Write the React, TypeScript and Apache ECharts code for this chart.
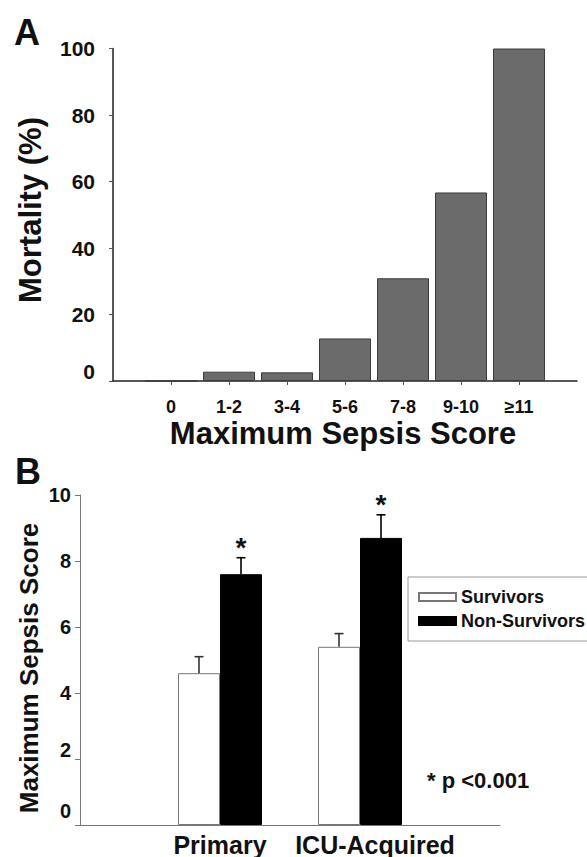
import React, { useEffect, useRef } from "react";
import * as echarts from "echarts";

// ---- Panel A data ----
const aCategories = ["0", "1-2", "3-4", "5-6", "7-8", "9-10", "≥11"];
const aMortality = [0, 2.8, 2.6, 12.8, 30.9, 56.7, 100];

// ---- Panel B data ----
const bGroups = ["Primary", "ICU-Acquired"];
const bSurvivors = [4.6, 5.4];
const bSurvivorsErr = [0.5, 0.4];
const bNonSurvivors = [7.6, 8.7];
const bNonSurvivorsErr = [0.5, 0.7];
const seriesNames = ["Survivors", "Non-Survivors"];

const FONT = "'Liberation Sans', Arial, Helvetica, sans-serif";
const INK = "#111";
const B_BAR_W = 42;

export default function App() {
  const ref = useRef<HTMLDivElement>(null);

  useEffect(() => {
    if (!ref.current) return;
    const chart = echarts.init(ref.current, undefined, { renderer: "svg" });

    const aX = ["", ...aCategories, ""];
    const aData: any[] = ["-", ...aMortality, "-"];
    const bX = ["", ...bGroups, ""];
    const pad = (arr: number[]) => ["-", ...arr, "-"];

    const errSeries = (vals: number[], errs: number[], offset: number, color: string, star: boolean, name: string) => ({
      type: "custom",
      name,
      xAxisIndex: 1,
      yAxisIndex: 1,
      z: 5,
      data: bGroups.map((_, i) => [i + 1, vals[i], errs[i]]),
      renderItem: (params: any, api: any) => {
        const idx = api.value(0);
        const v = api.value(1);
        const e = api.value(2);
        const base = api.coord([idx, v]);
        const top = api.coord([idx, v + e]);
        const x = base[0] + offset;
        const children: any[] = [
          { type: "line", shape: { x1: x, y1: base[1], x2: x, y2: top[1] }, style: { stroke: color, lineWidth: 1.6 } },
          { type: "line", shape: { x1: x - 4.5, y1: top[1], x2: x + 4.5, y2: top[1] }, style: { stroke: color, lineWidth: 1.6 } },
        ];
        if (star) {
          children.push({
            type: "text",
            style: { text: "*", x: x, y: top[1] + 4, textAlign: "center", textVerticalAlign: "bottom", font: `bold 28px ${FONT}`, fill: INK },
          });
        }
        return { type: "group", children };
      },
    });

    const option: any = {
      animation: false,
      backgroundColor: "#fff",
      grid: [
        { left: 113, top: 48.5, width: 464, height: 332.5 },
        { left: 80, top: 495, width: 420, height: 331.7 },
      ],
      xAxis: [
        {
          gridIndex: 0,
          type: "category",
          data: aX,
          boundaryGap: false,
          axisLine: { lineStyle: { color: "#222", width: 1.5 } },
          axisTick: { show: true, length: 4, inside: false, interval: (i: number) => i > 0 && i < aX.length - 1, lineStyle: { color: "#555" } },
          axisLabel: { interval: 0, margin: 17, fontSize: 18, fontWeight: "bold", fontFamily: FONT, color: INK },
          splitLine: { show: false },
        },
        {
          gridIndex: 1,
          type: "category",
          data: bX,
          boundaryGap: false,
          axisLine: { lineStyle: { color: "#777", width: 1 } },
          axisTick: { show: false },
          axisLabel: {
            interval: 0,
            margin: 7,
            fontSize: 25,
            fontWeight: "bold",
            fontFamily: FONT,
            color: INK,
            formatter: (v: string) => (v === "ICU-Acquired" ? "{r|ICU-Acquired}" : v),
            rich: { r: { fontSize: 25, fontWeight: "bold", fontFamily: FONT, color: INK, padding: [0, 0, 0, 30] } },
          },
          splitLine: { show: false },
        },
      ],
      yAxis: [
        {
          gridIndex: 0,
          type: "value",
          min: 0,
          max: 100,
          interval: 20,
          axisLine: { show: true, lineStyle: { color: "#222", width: 1.5 } },
          axisTick: { show: true, length: 4, lineStyle: { color: "#555" } },
          splitLine: { show: false },
          axisLabel: {
            margin: 18,
            fontSize: 21,
            fontWeight: "bold",
            fontFamily: FONT,
            color: INK,
            formatter: (v: number) => (v === 0 ? "{lo|0}" : String(v)),
            rich: { lo: { fontSize: 21, fontWeight: "bold", fontFamily: FONT, color: INK, padding: [0, 0, 20, 0] } },
          },
        },
        {
          gridIndex: 1,
          type: "value",
          min: 0,
          max: 10,
          interval: 2,
          axisLine: { show: true, lineStyle: { color: "#777", width: 1 } },
          axisTick: { show: true, length: 5, lineStyle: { color: "#777" } },
          splitLine: { show: false },
          axisLabel: {
            margin: 9,
            fontSize: 20,
            fontWeight: "bold",
            fontFamily: FONT,
            color: INK,
            formatter: (v: number) => (v === 0 ? "{z|0}" : v === 2 ? "{t|2}" : String(v)),
            rich: {
              z: { fontSize: 20, fontWeight: "bold", fontFamily: FONT, color: INK, padding: [0, 0, 29, 0] },
              t: { fontSize: 20, fontWeight: "bold", fontFamily: FONT, color: INK, padding: [0, 0, 18, 0] },
            },
          },
        },
      ],
      legend: {
        data: seriesNames,
        orient: "vertical",
        left: 408,
        top: 577,
        padding: [11, 30, 11, 10],
        itemWidth: 37,
        itemHeight: 8,
        itemGap: 6,
        icon: "rect",
        borderColor: "#999",
        borderWidth: 1,
        textStyle: { fontSize: 18, fontWeight: "bold", fontFamily: FONT, color: INK, lineHeight: 18 },
      },
      series: [
        {
          type: "bar",
          name: "Mortality",
          xAxisIndex: 0,
          yAxisIndex: 0,
          data: aData,
          barWidth: 52,
          itemStyle: { color: "#6b6b6b", borderColor: "#3c3c3c", borderWidth: 1 },
        },
        {
          type: "bar",
          name: seriesNames[0],
          xAxisIndex: 1,
          yAxisIndex: 1,
          data: pad(bSurvivors),
          barWidth: B_BAR_W,
          barGap: "0%",
          itemStyle: { color: "#fff", borderColor: "#777", borderWidth: 1 },
        },
        {
          type: "bar",
          name: seriesNames[1],
          xAxisIndex: 1,
          yAxisIndex: 1,
          data: pad(bNonSurvivors),
          barWidth: B_BAR_W,
          barGap: "0%",
          itemStyle: { color: "#000", borderColor: "#000", borderWidth: 1 },
        },
        errSeries(bSurvivors, bSurvivorsErr, -B_BAR_W / 2, "#333", false, "errS"),
        errSeries(bNonSurvivors, bNonSurvivorsErr, B_BAR_W / 2, "#000", true, "errN"),
      ],
      graphic: [
        { type: "text", left: 14, top: 14, style: { text: "A", font: `bold 36px ${FONT}`, fill: INK } },
        { type: "text", left: 15, top: 453, style: { text: "B", font: `bold 36px ${FONT}`, fill: INK } },
        {
          type: "text",
          x: 30,
          y: 210,
          rotation: Math.PI / 2,
          style: { text: "Mortality (%)", font: `bold 31px ${FONT}`, fill: INK, textAlign: "center", textVerticalAlign: "middle" },
        },
        {
          type: "text",
          x: 343,
          y: 433,
          style: { text: "Maximum Sepsis Score", font: `bold 31px ${FONT}`, fill: INK, textAlign: "center", textVerticalAlign: "middle" },
        },
        {
          type: "text",
          x: 29,
          y: 668,
          rotation: Math.PI / 2,
          style: { text: "Maximum Sepsis Score", font: `bold 26px ${FONT}`, fill: INK, textAlign: "center", textVerticalAlign: "middle" },
        },
        {
          type: "text",
          x: 427,
          y: 780,
          style: { text: "* p <0.001", font: `bold 22px ${FONT}`, fill: INK, textAlign: "left", textVerticalAlign: "middle" },
        },
      ],
    };

    chart.setOption(option);
    return () => chart.dispose();
  }, []);

  return (
    <div
      ref={ref}
      style={{ position: "fixed", left: 0, top: 0, width: 587, height: 857, background: "#fff" }}
    />
  );
}
